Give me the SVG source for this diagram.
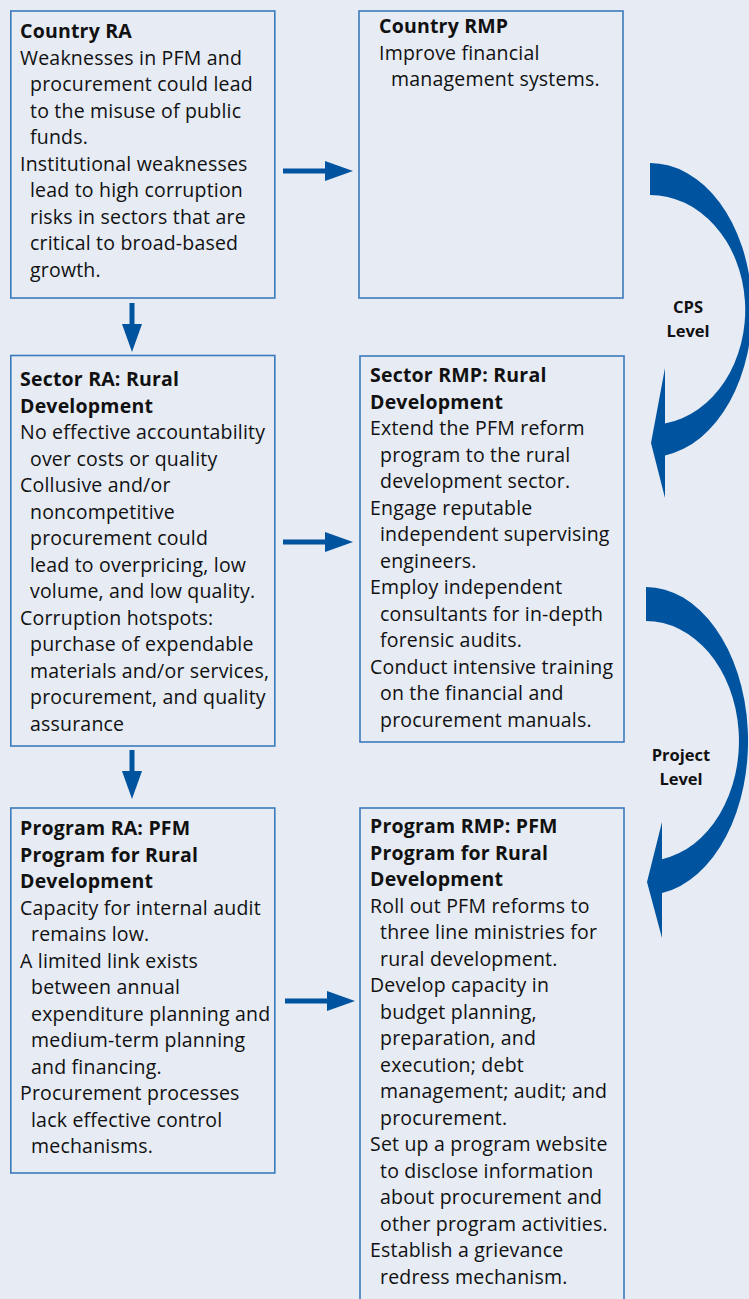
<svg xmlns="http://www.w3.org/2000/svg" width="749" height="1299" viewBox="0 0 749 1299">
<style>
.bg{fill:#e6ebf4}
.box{fill:#e6ebf4;stroke:#3b7bbd;stroke-width:1.6}
.t{font-family:"Open Sans","Noto Sans","Liberation Sans",sans-serif;font-size:19.5px;letter-spacing:0.2px;fill:#111}
.b{font-weight:bold}
.lbl{font-family:"Open Sans","Noto Sans","Liberation Sans",sans-serif;font-size:16.5px;font-weight:bold;fill:#111;text-anchor:middle}
.arr{stroke:#00539f;stroke-width:5;fill:none}
.big{fill:#00539f}
</style>
<defs>
<marker id="ah" viewBox="0 0 28 20" refX="0" refY="10" markerWidth="28" markerHeight="20" markerUnits="userSpaceOnUse" orient="auto">
<path d="M0,0 L28,10 L0,20 Z" fill="#00539f"/>
</marker>
</defs>
<rect class="bg" x="0" y="0" width="749" height="1299"/>

<g id="country-ra">
<rect class="box" x="10.8" y="11" width="264" height="287"/>
<text class="t"><tspan class="b" x="20" y="38">Country RA</tspan><tspan x="20" y="64.5">Weaknesses in PFM and</tspan><tspan x="30" y="91">procurement could lead</tspan><tspan x="30" y="117.5">to the misuse of public</tspan><tspan x="30" y="144">funds.</tspan><tspan x="20" y="170.5">Institutional weaknesses</tspan><tspan x="30" y="197">lead to high corruption</tspan><tspan x="30" y="223.5">risks in sectors that are</tspan><tspan x="30" y="250">critical to broad-based</tspan><tspan x="30" y="276.5">growth.</tspan></text>
</g>

<g id="country-rmp">
<rect class="box" x="359" y="11" width="264" height="287"/>
<text class="t"><tspan class="b" x="379" y="33">Country RMP</tspan><tspan x="379" y="59.5">Improve financial</tspan><tspan x="391" y="86">management systems.</tspan></text>
</g>

<g id="sector-ra">
<rect class="box" x="10.8" y="355.5" width="264" height="390.5"/>
<text class="t"><tspan class="b" x="20" y="386">Sector RA: Rural</tspan><tspan class="b" x="20" y="412.5">Development</tspan><tspan x="20" y="439">No effective accountability</tspan><tspan x="30" y="465.5">over costs or quality</tspan><tspan x="20" y="492">Collusive and/or</tspan><tspan x="30" y="518.5">noncompetitive</tspan><tspan x="30" y="545">procurement could</tspan><tspan x="30" y="571.5">lead to overpricing, low</tspan><tspan x="30" y="598">volume, and low quality.</tspan><tspan x="20" y="624.5">Corruption hotspots:</tspan><tspan x="30" y="651">purchase of expendable</tspan><tspan x="30" y="677.5">materials and/or services,</tspan><tspan x="30" y="704">procurement, and quality</tspan><tspan x="30" y="730.5">assurance</tspan></text>
</g>

<g id="sector-rmp">
<rect class="box" x="360" y="356" width="264" height="386"/>
<text class="t"><tspan class="b" x="370" y="382">Sector RMP: Rural</tspan><tspan class="b" x="370" y="408.5">Development</tspan><tspan x="370" y="435">Extend the PFM reform</tspan><tspan x="380" y="461.5">program to the rural</tspan><tspan x="380" y="488">development sector.</tspan><tspan x="370" y="514.5">Engage reputable</tspan><tspan x="380" y="541">independent supervising</tspan><tspan x="380" y="567.5">engineers.</tspan><tspan x="370" y="594">Employ independent</tspan><tspan x="380" y="620.5">consultants for in-depth</tspan><tspan x="380" y="647">forensic audits.</tspan><tspan x="370" y="673.5">Conduct intensive training</tspan><tspan x="380" y="700">on the financial and</tspan><tspan x="380" y="726.5">procurement manuals.</tspan></text>
</g>

<g id="program-ra">
<rect class="box" x="10.8" y="808" width="264" height="365"/>
<text class="t"><tspan class="b" x="20" y="835">Program RA: PFM</tspan><tspan class="b" x="20" y="861.5">Program for Rural</tspan><tspan class="b" x="20" y="888">Development</tspan><tspan x="20" y="914.5">Capacity for internal audit</tspan><tspan x="31" y="941">remains low.</tspan><tspan x="20" y="967.5">A limited link exists</tspan><tspan x="31" y="994">between annual</tspan><tspan x="31" y="1020.5">expenditure planning and</tspan><tspan x="31" y="1047">medium-term planning</tspan><tspan x="31" y="1073.5">and financing.</tspan><tspan x="20" y="1100">Procurement processes</tspan><tspan x="31" y="1126.5">lack effective control</tspan><tspan x="31" y="1153">mechanisms.</tspan></text>
</g>

<g id="program-rmp">
<rect class="box" x="360" y="808" width="264" height="500"/>
<text class="t"><tspan class="b" x="370" y="833">Program RMP: PFM</tspan><tspan class="b" x="370" y="859.5">Program for Rural</tspan><tspan class="b" x="370" y="886">Development</tspan><tspan x="370" y="912.5">Roll out PFM reforms to</tspan><tspan x="380" y="939">three line ministries for</tspan><tspan x="380" y="965.5">rural development.</tspan><tspan x="370" y="992">Develop capacity in</tspan><tspan x="380" y="1018.5">budget planning,</tspan><tspan x="380" y="1045">preparation, and</tspan><tspan x="380" y="1071.5">execution; debt</tspan><tspan x="380" y="1098">management; audit; and</tspan><tspan x="380" y="1124.5">procurement.</tspan><tspan x="370" y="1151">Set up a program website</tspan><tspan x="380" y="1177.5">to disclose information</tspan><tspan x="380" y="1204">about procurement and</tspan><tspan x="380" y="1230.5">other program activities.</tspan><tspan x="370" y="1257">Establish a grievance</tspan><tspan x="380" y="1283.5">redress mechanism.</tspan></text>
</g>

<g id="connectors">
<line class="arr" x1="283" y1="171" x2="325" y2="171" marker-end="url(#ah)"/>
<line class="arr" x1="283" y1="542" x2="325" y2="542" marker-end="url(#ah)"/>
<line class="arr" x1="285" y1="1001" x2="327" y2="1001" marker-end="url(#ah)"/>
<line class="arr" x1="132" y1="303" x2="132" y2="324" marker-end="url(#ah)"/>
<line class="arr" x1="132" y1="750" x2="132" y2="771" marker-end="url(#ah)"/>
<path class="big" d="M650,163 A102,147 0 0 1 665,455.4 L665,498 L651,443 L665,368 L665,423.6 A95,115 0 0 0 650,195 Z"/>
<path class="big" d="M646,587 A102,154 0 0 1 662,893.1 L662,938 L647,882 L662,822 L662,859.2 A93,120 0 0 0 646,621 Z"/>
</g>

<g id="cps-level">
<text class="lbl"><tspan x="688" y="313">CPS</tspan><tspan x="688" y="337">Level</tspan></text>
</g>
<g id="project-level">
<text class="lbl"><tspan x="681" y="761">Project</tspan><tspan x="681" y="785">Level</tspan></text>
</g>
</svg>
